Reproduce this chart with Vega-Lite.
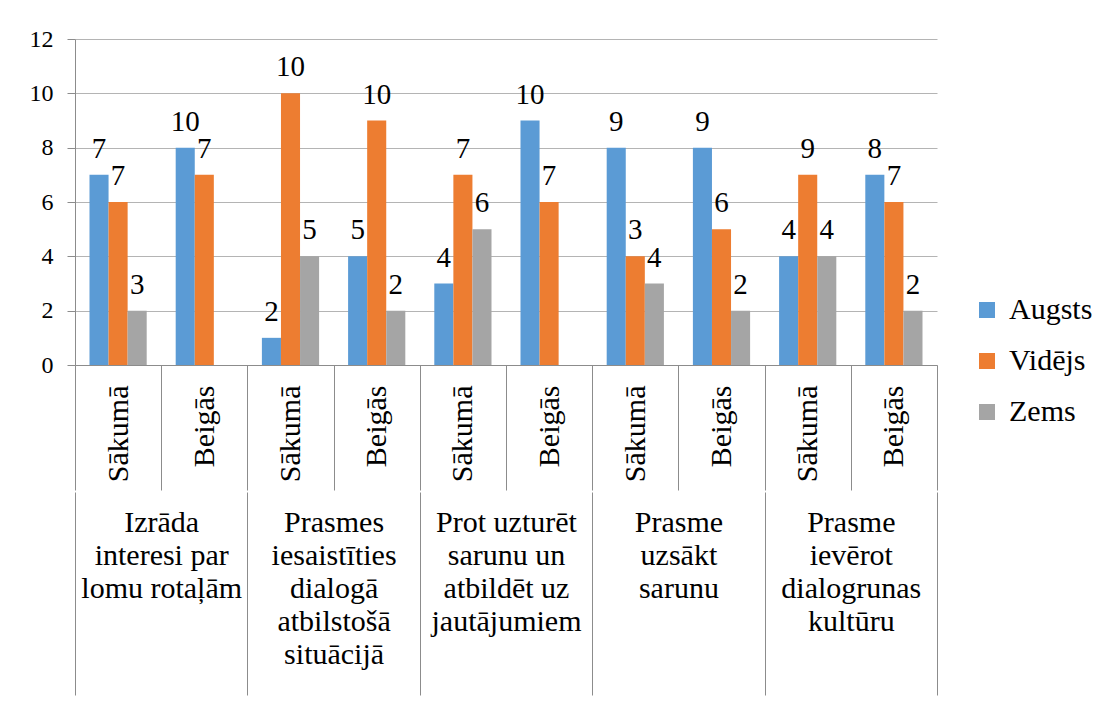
{
  "$schema": "https://vega.github.io/schema/vega-lite/v6.json",
  "padding": {"left": 29, "top": 27, "right": 0, "bottom": 0},
  "background": "white",
  "datasets": {
    "bars": [
      {"cat": "Sākumā|1", "series": "Augsts", "value": 7, "label": 7},
      {"cat": "Sākumā|1", "series": "Vidējs", "value": 6, "label": 7},
      {"cat": "Sākumā|1", "series": "Zems", "value": 2, "label": 3},
      {"cat": "Beigās|1", "series": "Augsts", "value": 8, "label": 10},
      {"cat": "Beigās|1", "series": "Vidējs", "value": 7, "label": 7},
      {"cat": "Sākumā|2", "series": "Augsts", "value": 1, "label": 2},
      {"cat": "Sākumā|2", "series": "Vidējs", "value": 10, "label": 10},
      {"cat": "Sākumā|2", "series": "Zems", "value": 4, "label": 5},
      {"cat": "Beigās|2", "series": "Augsts", "value": 4, "label": 5},
      {"cat": "Beigās|2", "series": "Vidējs", "value": 9, "label": 10},
      {"cat": "Beigās|2", "series": "Zems", "value": 2, "label": 2},
      {"cat": "Sākumā|3", "series": "Augsts", "value": 3, "label": 4},
      {"cat": "Sākumā|3", "series": "Vidējs", "value": 7, "label": 7},
      {"cat": "Sākumā|3", "series": "Zems", "value": 5, "label": 6},
      {"cat": "Beigās|3", "series": "Augsts", "value": 9, "label": 10},
      {"cat": "Beigās|3", "series": "Vidējs", "value": 6, "label": 7},
      {"cat": "Sākumā|4", "series": "Augsts", "value": 8, "label": 9},
      {"cat": "Sākumā|4", "series": "Vidējs", "value": 4, "label": 3},
      {"cat": "Sākumā|4", "series": "Zems", "value": 3, "label": 4},
      {"cat": "Beigās|4", "series": "Augsts", "value": 8, "label": 9},
      {"cat": "Beigās|4", "series": "Vidējs", "value": 5, "label": 6},
      {"cat": "Beigās|4", "series": "Zems", "value": 2, "label": 2},
      {"cat": "Sākumā|5", "series": "Augsts", "value": 4, "label": 4},
      {"cat": "Sākumā|5", "series": "Vidējs", "value": 7, "label": 9},
      {"cat": "Sākumā|5", "series": "Zems", "value": 4, "label": 4},
      {"cat": "Beigās|5", "series": "Augsts", "value": 7, "label": 8},
      {"cat": "Beigās|5", "series": "Vidējs", "value": 6, "label": 7},
      {"cat": "Beigās|5", "series": "Zems", "value": 2, "label": 2}
    ],
    "groups": [
      {"group": "Izrāda|interesi par|lomu rotaļām"},
      {"group": "Prasmes|iesaistīties|dialogā|atbilstošā|situācijā"},
      {"group": "Prot uzturēt|sarunu un|atbildēt uz|jautājumiem"},
      {"group": "Prasme|uzsākt|sarunu"},
      {"group": "Prasme|ievērot|dialogrunas|kultūru"}
    ]
  },
  "config": {
    "view": {"stroke": null},
    "font": "Liberation Serif, Times New Roman, serif",
    "axis": {"labelFont": "Liberation Serif, Times New Roman, serif", "labelColor": "black", "title": null},
    "legend": {"labelFont": "Liberation Serif, Times New Roman, serif"},
    "text": {"font": "Liberation Serif, Times New Roman, serif"}
  },
  "spacing": -5,
  "vconcat": [
    {
      "width": 862,
      "height": 326,
      "data": {"name": "bars"},
      "encoding": {
        "x": {
          "field": "cat", "type": "nominal",
          "scale": {
            "domain": ["Sākumā|1", "Beigās|1", "Sākumā|2", "Beigās|2", "Sākumā|3", "Beigās|3", "Sākumā|4", "Beigās|4", "Sākumā|5", "Beigās|5"],
            "paddingInner": 0, "paddingOuter": 0
          },
          "axis": {
            "labelExpr": "split(datum.label, '|')[0]",
            "labelAngle": -90, "labelAlign": "right", "labelBaseline": "middle",
            "labelFontSize": 30, "labelPadding": -105,
            "tickBand": "extent", "tickSize": 125, "tickColor": "#8c8c8c",
            "domainColor": "#8c8c8c", "labelOverlap": false, "labelLimit": 300
          }
        },
        "xOffset": {
          "field": "series", "type": "nominal",
          "scale": {"domain": ["Augsts", "Vidējs", "Zems"], "paddingOuter": 0.76, "paddingInner": 0}
        },
        "y": {
          "field": "value", "type": "quantitative",
          "scale": {"domain": [0, 12]},
          "axis": {
            "values": [0, 2, 4, 6, 8, 10, 12],
            "labelFontSize": 24, "labelPadding": 14,
            "tickSize": 8, "tickColor": "#8c8c8c", "domainColor": "#8c8c8c",
            "gridColor": "#b4b4b4", "grid": true
          }
        }
      },
      "layer": [
        {
          "mark": {"type": "bar"},
          "encoding": {
            "color": {
              "field": "series", "type": "nominal",
              "scale": {"domain": ["Augsts", "Vidējs", "Zems"], "range": ["#5B9BD5", "#ED7D31", "#A5A5A5"]},
              "legend": {
                "title": null, "orient": "none", "legendX": 897, "legendY": 256,
                "symbolType": "square", "symbolSize": 256, "symbolStrokeWidth": 0,
                "labelFontSize": 30, "labelColor": "black",
                "rowPadding": 21, "labelOffset": 7, "padding": 0
              }
            }
          }
        },
        {
          "mark": {"type": "text", "baseline": "alphabetic", "dy": -17, "fontSize": 29, "color": "black"},
          "encoding": {"text": {"field": "label", "type": "quantitative"}}
        }
      ]
    },
    {
      "width": 862,
      "height": 1,
      "data": {"name": "groups"},
      "mark": {"type": "point", "opacity": 0},
      "encoding": {
        "x": {
          "field": "group", "type": "nominal", "sort": null,
          "scale": {"paddingInner": 0, "paddingOuter": 0},
          "axis": {
            "orient": "bottom",
            "labelExpr": "split(datum.label, '|')",
            "labelAngle": 0, "labelAlign": "center", "labelBaseline": "top",
            "labelFontSize": 30, "labelLineHeight": 33, "labelPadding": -188,
            "tickBand": "extent", "tickSize": 203, "tickColor": "#8c8c8c",
            "domain": false, "labelOverlap": false, "labelLimit": 400
          }
        }
      }
    }
  ]
}
